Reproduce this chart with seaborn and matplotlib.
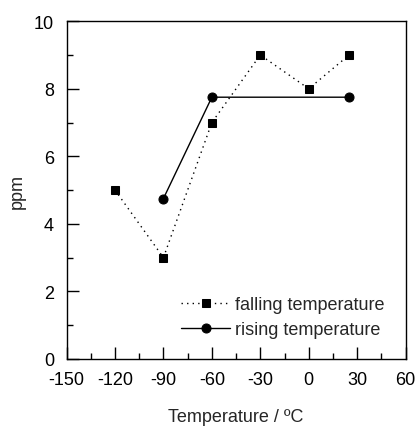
import matplotlib
matplotlib.use('Agg')
import matplotlib.pyplot as plt
import seaborn as sns
from matplotlib.ticker import MultipleLocator

falling_temp = [-120, -90, -60, -30, 0, 25]
falling_ppm = [5, 3, 7, 9, 8, 9]
rising_temp = [-90, -60, 25]
rising_ppm = [4.75, 7.75, 7.75]

sns.set_style('ticks')
plt.rcParams['font.family'] = ['Liberation Sans', 'DejaVu Sans']
plt.rcParams['font.size'] = 13
plt.rcParams['axes.unicode_minus'] = False

fig, ax = plt.subplots(figsize=(4.16, 4.27), dpi=100)

sns.lineplot(x=falling_temp, y=falling_ppm, ax=ax, color='black', linestyle=(0, (1, 3)),
             linewidth=1, marker='s', markersize=5.5, markeredgecolor='black',
             label='falling temperature')
sns.lineplot(x=rising_temp, y=rising_ppm, ax=ax, color='black', linestyle='-',
             linewidth=1, marker='o', markersize=6.5, markeredgecolor='black',
             label='rising temperature')

ax.set_xlim(-150, 60)
ax.set_ylim(0, 10)
ax.xaxis.set_major_locator(MultipleLocator(30))
ax.xaxis.set_minor_locator(MultipleLocator(15))
ax.yaxis.set_major_locator(MultipleLocator(2))
ax.yaxis.set_minor_locator(MultipleLocator(1))
ax.tick_params(which='major', direction='in', length=8.5, width=1, labelsize=13,
               color='black', labelcolor='black', pad=9)
ax.tick_params(which='minor', direction='in', length=4.3, width=1, color='black')
for s in ax.spines.values():
    s.set_visible(True)
    s.set_color('black')
    s.set_linewidth(1)

ax.set_xlabel('Temperature / ºC', fontsize=13, labelpad=14)
ax.set_ylabel('ppm', fontsize=13, labelpad=6)

ax.legend(loc='lower right', frameon=False, fontsize=13, handlelength=2.7,
          handletextpad=0.3, borderaxespad=0.75, labelspacing=0.45)

plt.subplots_adjust(left=0.16, right=0.975, top=0.948, bottom=0.157)
fig.savefig('out.png', dpi=100, facecolor='white')
